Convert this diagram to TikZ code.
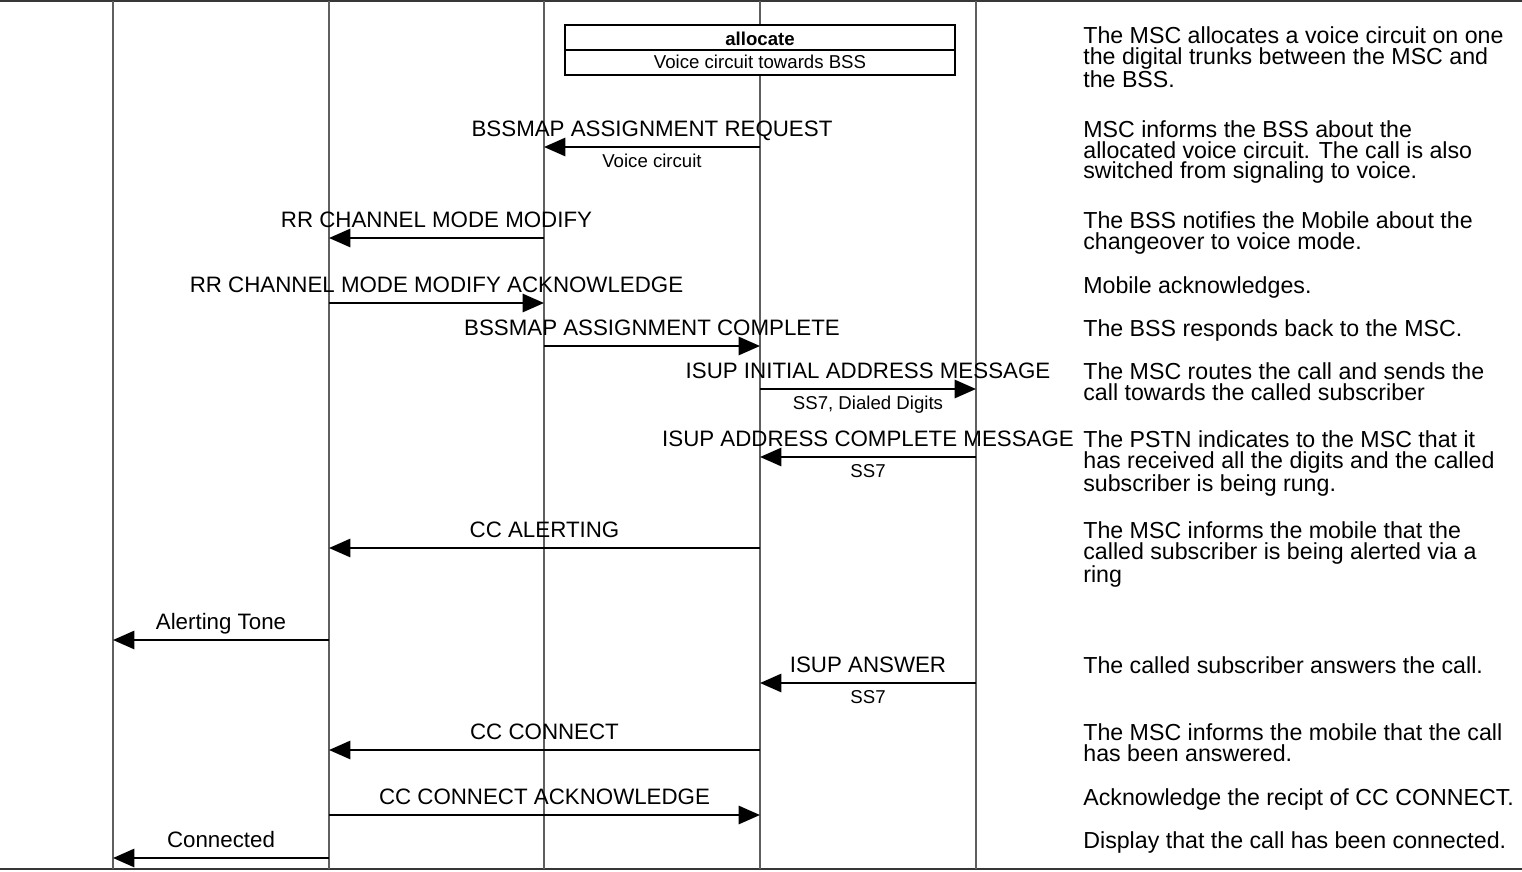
\documentclass[tikz,border=0pt]{standalone}
\usepackage{fontspec}
\setmainfont{Liberation Sans}
\usetikzlibrary{arrows.meta,positioning,calc}
\definecolor{LifeGray}{RGB}{95,95,95}
\definecolor{RuleGray}{RGB}{55,55,55}

\begin{document}
\begin{tikzpicture}[x=0.02cm,y=-0.02cm,
      life/.style={draw=LifeGray,line width=0.7pt},
      rule/.style={draw=RuleGray,line width=1.1pt},
      msg/.style={-{Triangle[length=12.2pt,width=10.4pt]},line width=1.3pt},
      msglbl/.style={anchor=base,inner sep=0pt,yshift=5.7pt,
        font=\fontsize{12.7}{12}\selectfont},
      sublbl/.style={anchor=base,inner sep=0pt,yshift=-11.9pt,
        font=\fontsize{10.6}{12}\selectfont},
      note/.style={anchor=north west,inner sep=0pt,align=left,
        font=\fontsize{13.2}{11.9}\selectfont},
      actbox/.style={draw,line width=1.1pt,fill=white,inner sep=0pt,
        minimum width=7.8cm,minimum height=1cm},
      boxlbl/.style={anchor=base,inner sep=0pt,font=\fontsize{10.6}{12}\selectfont}
    ]
      \useasboundingbox (0,0) rectangle (1522,872);
      % lifelines
      \coordinate (user) at (113,1);
      \coordinate (ms) at (329,1);
      \coordinate (bss) at (544,1);
      \coordinate (msc) at (760,1);
      \coordinate (pstn) at (976,1);
      \coordinate (top) at (0,1);
      \coordinate (bot) at (0,869);
      \draw[rule] (top) -- (top -| 1522,0);
      \draw[rule] (bot) -- (bot -| 1522,0);
      \foreach \l in {user,ms,bss,msc,pstn}
        \draw[life] (\l) -- (\l |- bot);

      % message rows
      \coordinate (r1) at (0,147);
      \coordinate (r2) at (0,238);
      \coordinate (r3) at (0,303);
      \coordinate (r4) at (0,346);
      \coordinate (r5) at (0,389);
      \coordinate (r6) at (0,457);
      \coordinate (r7) at (0,548);
      \coordinate (r8) at (0,640);
      \coordinate (r9) at (0,683);
      \coordinate (r10) at (0,750);
      \coordinate (r11) at (0,815);
      \coordinate (r12) at (0,858);

      % action box
      \node[actbox] (alloc) at (760,50) {};
      \draw[line width=0.8pt] (alloc.west) -- (alloc.east);
      \node[boxlbl] (alloctitle) at (760,45) {\textbf{allocate}};
      \node[boxlbl] (alloctext) at (760,68) {Voice circuit towards BSS};

      % messages
      \draw[msg] (msc |- r1) -- node[msglbl] (m1) {BSSMAP ASSIGNMENT REQUEST}
        node[sublbl] (s1) {Voice circuit} (bss |- r1);
      \draw[msg] (bss |- r2) -- node[msglbl] (m2) {RR CHANNEL MODE MODIFY} (ms |- r2);
      \draw[msg] (ms |- r3) -- node[msglbl] (m3) {RR CHANNEL MODE MODIFY ACKNOWLEDGE} (bss |- r3);
      \draw[msg] (bss |- r4) -- node[msglbl] (m4) {BSSMAP ASSIGNMENT COMPLETE} (msc |- r4);
      \draw[msg] (msc |- r5) -- node[msglbl] (m5) {ISUP INITIAL ADDRESS MESSAGE}
        node[sublbl] (s5) {SS7, Dialed Digits} (pstn |- r5);
      \draw[msg] (pstn |- r6) -- node[msglbl] (m6) {ISUP ADDRESS COMPLETE MESSAGE}
        node[sublbl] (s6) {SS7} (msc |- r6);
      \draw[msg] (msc |- r7) -- node[msglbl] (m7) {CC ALERTING} (ms |- r7);
      \draw[msg] (ms |- r8) -- node[msglbl] (m8) {Alerting Tone} (user |- r8);
      \draw[msg] (pstn |- r9) -- node[msglbl] (m9) {ISUP ANSWER}
        node[sublbl] (s9) {SS7} (msc |- r9);
      \draw[msg] (msc |- r10) -- node[msglbl] (m10) {CC CONNECT} (ms |- r10);
      \draw[msg] (ms |- r11) -- node[msglbl] (m11) {CC CONNECT ACKNOWLEDGE} (msc |- r11);
      \draw[msg] (ms |- r12) -- node[msglbl] (m12) {Connected} (user |- r12);

      % comments (top of first line)
      \node[note] (c0) at (1083,26) {The MSC allocates a voice circuit on one\\
        the digital trunks between the MSC and\\the BSS.};
      \node[note] (c1) at (1083,120) {MSC informs the BSS about the\\
        allocated voice circuit. The call is also\\switched from signaling to voice.};
      \node[note] (c2) at (1083,211) {The BSS notifies the Mobile about the\\
        changeover to voice mode.};
      \node[note] (c3) at (1083,276) {Mobile acknowledges.};
      \node[note] (c4) at (1083,319) {The BSS responds back to the MSC.};
      \node[note] (c5) at (1083,362) {The MSC routes the call and sends the\\
        call towards the called subscriber};
      \node[note] (c6) at (1083,430) {The PSTN indicates to the MSC that it\\
        has received all the digits and the called\\subscriber is being rung.};
      \node[note] (c7) at (1083,521) {The MSC informs the mobile that the\\
        called subscriber is being alerted via a\\ring};
      \node[note] (c9) at (1083,656) {The called subscriber answers the call.};
      \node[note] (c10) at (1083,723) {The MSC informs the mobile that the call\\
        has been answered.};
      \node[note] (c11) at (1083,788) {Acknowledge the recipt of CC CONNECT.};
      \node[note] (c12) at (1083,831) {Display that the call has been connected.};
    \end{tikzpicture}
\end{document}
